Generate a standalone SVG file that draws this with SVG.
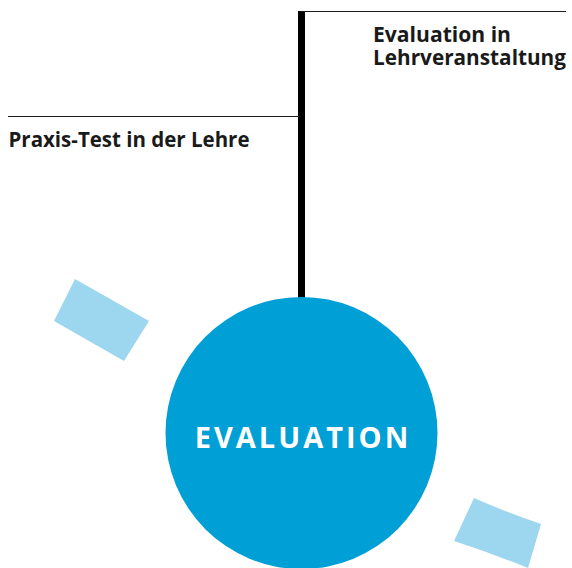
<svg xmlns="http://www.w3.org/2000/svg" width="572" height="568" viewBox="0 0 572 568">
<style>
.lbl{font-family:"Open Sans","Noto Sans","DejaVu Sans",sans-serif;font-weight:bold;font-size:21px;fill:#1a1a1a}
.thin{stroke:#1a1a1a;stroke-width:1.2;fill:none}
.deco{fill:#9dd7ef}
</style>
<rect width="572" height="568" fill="#ffffff"/>
<g id="decorations">
<path class="deco" d="M75,279 L149,321 L124,361 L54,321 Z"/>
<path class="deco" d="M474,498 Q508,513 541,524 L528,568 Q491,553 454,541 Z"/>
</g>
<g id="connectors">
<line x1="301.5" y1="11" x2="301.5" y2="300" stroke="#000" stroke-width="7"/>
<line class="thin" x1="301" y1="11.5" x2="566" y2="11.5"/>
<line class="thin" x1="8" y1="116.5" x2="301" y2="116.5"/>
</g>
<g id="node-evaluation-in-lv">
<text class="lbl"><tspan x="373" y="42" textLength="138" lengthAdjust="spacingAndGlyphs">Evaluation in</tspan><tspan x="373" y="64.5" textLength="193" lengthAdjust="spacingAndGlyphs">Lehrveranstaltung</tspan></text>
</g>
<g id="node-praxis-test">
<text class="lbl" x="8.5" y="147" textLength="241" lengthAdjust="spacingAndGlyphs">Praxis-Test in der Lehre</text>
</g>
<g id="node-evaluation">
<circle cx="301.5" cy="433" r="136" fill="#009fd6"/>
<text x="303" y="447.5" text-anchor="middle" font-family="'Open Sans','Noto Sans',sans-serif" font-weight="bold" font-size="29" letter-spacing="3" fill="#ffffff">EVALUATION</text>
</g>
</svg>
